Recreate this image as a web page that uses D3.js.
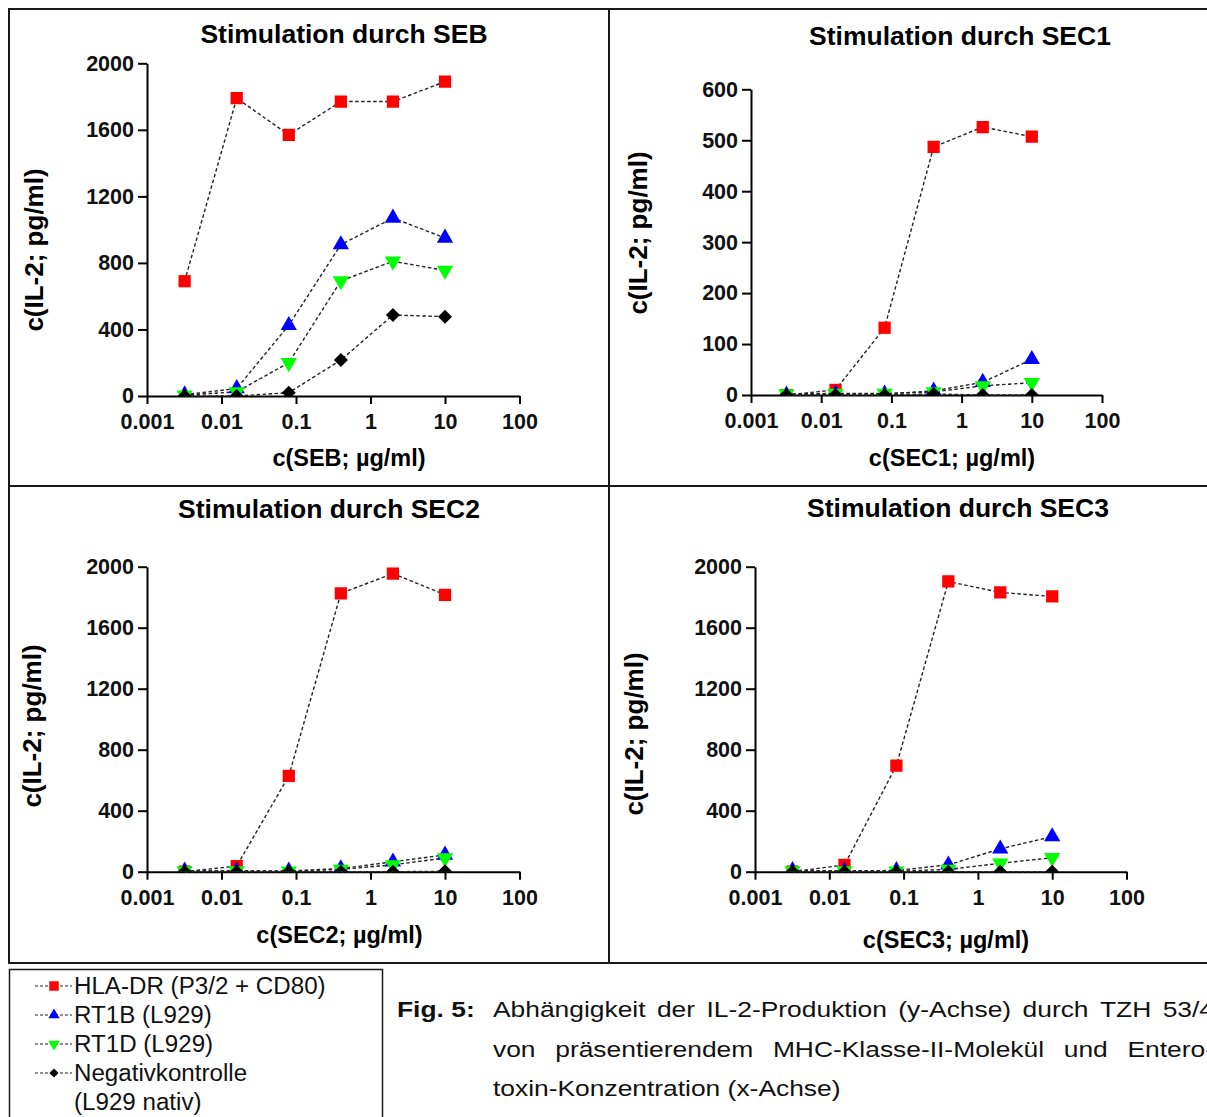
<!DOCTYPE html>
<html><head><meta charset="utf-8">
<script src="https://cdn.jsdelivr.net/npm/d3@7"></script>
<style>body{margin:0;background:#fff}svg{display:block}</style>
</head><body>
<script>
// ---------- data ----------
const concentrations = [0.0032, 0.016, 0.08, 0.4, 2, 10];
const xTickValues = [0.001, 0.01, 0.1, 1, 10, 100];
const xTickLabels = ["0.001", "0.01", "0.1", "1", "10", "100"];
const yTicks2000 = [0, 400, 800, 1200, 1600, 2000];
const yTicks600 = [0, 100, 200, 300, 400, 500, 600];
const stimulants = ["SEB", "SEC1", "SEC2", "SEC3"];
const seriesKeys = ["hla", "rt1b", "rt1d", "neg"];
const legendLabels = ["HLA-DR (P3/2 + CD80)", "RT1B (L929)", "RT1D (L929)", "Negativkontrolle", "(L929 nativ)"];

const seb_hla  = [690, 1790, 1570, 1770, 1770, 1890];
const seb_rt1b = [8, 45, 425, 910, 1070, 950];
const seb_rt1d = [5, 25, 200, 692, 810, 755];
const seb_neg  = [0, 0, 20, 216, 487, 477];

const sec1_hla  = [0, 10, 132, 487, 526, 507];
const sec1_rt1b = [0, 2, 2, 8, 25, 70];
const sec1_rt1d = [2, 3, 3, 6, 18, 24];
const sec1_neg  = [0, 0, 0, 2, 0, 0];

const sec2_hla  = [0, 37, 628, 1825, 1955, 1816];
const sec2_rt1b = [5, 5, 5, 20, 65, 110];
const sec2_rt1d = [5, 5, 3, 15, 45, 90];
const sec2_neg  = [0, 0, 0, 0, 0, 3];

const sec3_hla  = [0, 44, 696, 1903, 1831, 1805];
const sec3_rt1b = [8, 5, 8, 45, 150, 230];
const sec3_rt1d = [5, 5, 3, 15, 55, 92];
const sec3_neg  = [0, 0, 0, 0, 0, 0];

const captionLabel = "Fig. 5:";
const captionLines = [
  "Abhängigkeit der IL-2-Produktion (y-Achse) durch TZH 53/4",
  "von präsentierendem MHC-Klasse-II-Molekül und Entero-",
  "toxin-Konzentration (x-Achse)"
];

// ---------- layout ----------
const W = 1207, H = 1117;
const FONT = "'Liberation Sans', Arial, Helvetica, sans-serif";
const panels = [
  {name: "SEB",  series: [seb_hla, seb_rt1b, seb_rt1d, seb_neg],   yMax: 2000, yTicks: yTicks2000,
   x0: 147, x1: 519.5, yB: 396, yT: 63.3, title: [344, 43], xl: [349, 466], yl: [43, 250]},
  {name: "SEC1", series: [sec1_hla, sec1_rt1b, sec1_rt1d, sec1_neg], yMax: 600, yTicks: yTicks600,
   x0: 751, x1: 1102, yB: 395, yT: 89.3, title: [960, 45], xl: [952, 466], yl: [647, 233]},
  {name: "SEC2", series: [sec2_hla, sec2_rt1b, sec2_rt1d, sec2_neg], yMax: 2000, yTicks: yTicks2000,
   x0: 147, x1: 519.5, yB: 871.7, yT: 566.7, title: [329, 518], xl: [339.5, 943], yl: [41, 726]},
  {name: "SEC3", series: [sec3_hla, sec3_rt1b, sec3_rt1d, sec3_neg], yMax: 2000, yTicks: yTicks2000,
   x0: 755, x1: 1126.5, yB: 871.7, yT: 566.7, title: [958, 517], xl: [946, 948], yl: [643, 734]}
];

const styles = [
  {fill: "#ff0000", type: d3.symbolSquare, size: 150, rot: 0, lsize: 90},
  {fill: "#0000ff", type: d3.symbolTriangle, size: 115, rot: 0, lsize: 55},
  {fill: "#00ff00", type: d3.symbolTriangle, size: 115, rot: 180, lsize: 55},
  {fill: "#000000", type: d3.symbolSquare, size: 98, rot: 45, lsize: 42}
];

const svg = d3.select("body").append("svg").attr("width", W).attr("height", H)
  .style("font-family", FONT);
svg.append("rect").attr("width", W).attr("height", H).attr("fill", "#fff");

// frame
const frame = svg.append("g").attr("stroke", "#1a1a1a").attr("stroke-width", 2).attr("fill", "none");
frame.append("line").attr("x1", 8).attr("x2", W).attr("y1", 9).attr("y2", 9);
frame.append("line").attr("x1", 8).attr("x2", W).attr("y1", 486).attr("y2", 486);
frame.append("line").attr("x1", 8).attr("x2", W).attr("y1", 963).attr("y2", 963);
frame.append("line").attr("x1", 9).attr("x2", 9).attr("y1", 8).attr("y2", 964);
frame.append("line").attr("x1", 609).attr("x2", 609).attr("y1", 8).attr("y2", 964);

panels.forEach((p, pi) => {
  const x = d3.scaleLog().domain([0.001, 100]).range([p.x0, p.x1]);
  const y = d3.scaleLinear().domain([0, p.yMax]).range([p.yB, p.yT]);
  const g = svg.append("g");

  // axes
  const xAxis = d3.axisBottom(x).tickValues(xTickValues).tickFormat((d, i) => xTickLabels[i])
    .tickSizeInner(8).tickSizeOuter(0).tickPadding(10);
  const gx = g.append("g").attr("transform", `translate(0,${p.yB})`).call(xAxis);
  const yAxis = d3.axisLeft(y).tickValues(p.yTicks).tickFormat(d3.format("d"))
    .tickSizeInner(9).tickSizeOuter(0).tickPadding(4);
  const gy = g.append("g").attr("transform", `translate(${p.x0},0)`).call(yAxis);
  [gx, gy].forEach(a => {
    a.select(".domain").attr("stroke", "#000").attr("stroke-width", 2);
    a.selectAll(".tick line").attr("stroke", "#000").attr("stroke-width", 2);
    a.selectAll(".tick text").attr("fill", "#111").style("font-size", "21.5px")
      .style("font-weight", "bold").style("font-family", FONT);
  });

  // title and labels
  g.append("text").attr("x", p.title[0]).attr("y", p.title[1]).attr("text-anchor", "middle")
    .style("font-size", "26.5px").style("font-weight", "bold").text("Stimulation durch " + stimulants[pi]);
  g.append("text").attr("x", p.xl[0]).attr("y", p.xl[1]).attr("text-anchor", "middle")
    .style("font-size", "23.5px").style("font-weight", "bold").text("c(" + stimulants[pi] + "; µg/ml)");
  g.append("text").attr("transform", `translate(${p.yl[0]},${p.yl[1]}) rotate(-90)`).attr("text-anchor", "middle")
    .style("font-size", "26px").style("font-weight", "bold").text("c(IL-2; pg/ml)");

  // clip for markers (cut at x-axis)
  const clipId = "clip" + pi;
  svg.append("clipPath").attr("id", clipId).append("rect")
    .attr("x", p.x0 - 30).attr("y", p.yT - 40).attr("width", p.x1 - p.x0 + 60).attr("height", p.yB - p.yT + 40);

  const line = d3.line().x((d, i) => x(concentrations[i])).y(d => y(d));
  const lines = g.append("g");
  p.series.forEach(vals => {
    lines.append("path").attr("d", line(vals)).attr("fill", "none").attr("stroke", "#222")
      .attr("stroke-width", 1.4).attr("stroke-dasharray", "3.5,2.5");
  });
  const marks = g.append("g").attr("clip-path", `url(#${clipId})`);
  p.series.forEach((vals, si) => {
    const st = styles[si];
    const sym = d3.symbol().type(st.type).size(st.size);
    marks.selectAll(null).data(vals).join("path")
      .attr("transform", (d, i) => `translate(${x(concentrations[i])},${y(d)}) rotate(${st.rot})`)
      .attr("d", sym()).attr("fill", st.fill);
  });
});

// legend
const lg = svg.append("g");
lg.append("rect").attr("x", 9.5).attr("y", 969.5).attr("width", 373).attr("height", 200)
  .attr("fill", "none").attr("stroke", "#1a1a1a").attr("stroke-width", 1.5);
const legendRowY = [986, 1015, 1044, 1073, 1102];
legendLabels.forEach((lab, i) => {
  const cy = legendRowY[i];
  if (i < 4) {
    lg.append("line").attr("x1", 35).attr("x2", 72).attr("y1", cy).attr("y2", cy)
      .attr("stroke", "#222").attr("stroke-width", 1.2).attr("stroke-dasharray", "3,2");
    const st = styles[i];
    lg.append("path").attr("transform", `translate(54,${cy}) rotate(${st.rot})`)
      .attr("d", d3.symbol().type(st.type).size(st.lsize)()).attr("fill", st.fill);
  }
  lg.append("text").attr("transform", `translate(74,${cy + 7.5}) scale(1.05,1)`)
    .style("font-size", "23px").attr("fill", "#111").text(lab);
});

// caption
const cap = svg.append("g").attr("fill", "#111");
const capBase = [1017, 1057, 1096];
cap.append("text").attr("transform", `translate(397,${capBase[0]}) scale(1.2,1)`)
  .style("font-size", "22px").style("font-weight", "bold").text(captionLabel);
const capX = 493, capRight = 1214, sx = 1.2;
captionLines.forEach((ln, li) => {
  const lgp = cap.append("g").attr("transform", `translate(${capX},${capBase[li]}) scale(${sx},1)`);
  const words = ln.split(" ");
  if (li === captionLines.length - 1) {
    lgp.append("text").style("font-size", "22px").text(ln);
    return;
  }
  const nodes = words.map(w => lgp.append("text").style("font-size", "22px").text(w));
  const widths = nodes.map(n => n.node().getComputedTextLength());
  const total = d3.sum(widths);
  const target = (capRight - capX) / sx;
  const gap = (target - total) / (words.length - 1);
  let pos = 0;
  nodes.forEach((n, i) => { n.attr("x", pos); pos += widths[i] + gap; });
});
</script>
</body></html>
